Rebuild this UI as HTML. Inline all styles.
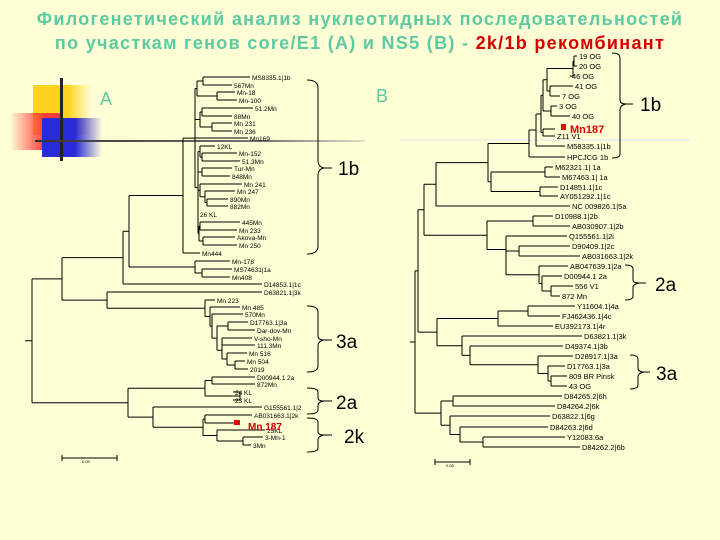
<!DOCTYPE html>
<html><head><meta charset="utf-8"><style>
body{margin:0;background:#fffed4;}
#w{position:relative;width:720px;height:540px;overflow:hidden;background:#fffed4;font-family:"Liberation Sans","DejaVu Sans",sans-serif;}
.t{position:absolute;left:0;width:720px;text-align:center;font-weight:bold;font-size:18px;color:#5ccaa3;letter-spacing:1.3px;white-space:nowrap;}
svg text{font-family:"Liberation Sans",sans-serif;}
</style></head><body><div id="w">
<div style="position:absolute;left:33px;top:85px;width:58px;height:50px;background:linear-gradient(90deg,#ffd21e 60%,rgba(255,220,100,0))"></div>
<div style="position:absolute;left:10px;top:113px;width:50px;height:37px;background:linear-gradient(90deg,rgba(255,150,150,0),#ff3a3a 70%)"></div>
<div style="position:absolute;left:42px;top:118px;width:60px;height:39px;background:linear-gradient(90deg,#2a2ad8 55%,rgba(80,80,230,0))"></div>
<div style="position:absolute;left:60px;top:78px;width:3px;height:83px;background:#222"></div>
<div style="position:absolute;left:35px;top:140px;width:330px;height:2px;background:linear-gradient(90deg,#333,#777 70%,rgba(150,150,150,0.3))"></div>
<div style="position:absolute;left:400px;top:139px;width:290px;height:2px;background:linear-gradient(90deg,rgba(230,230,230,0.6),#eee)"></div>
<div class="t" style="top:9px">Филогенетический анализ нуклеотидных последовательностей</div>
<div class="t" style="top:33px">по участкам генов core/E1 (A) и NS5 (B) - <span style="color:#d40000">2k/1b рекомбинант</span></div>
<svg width="720" height="540" style="position:absolute;left:0;top:0">
<g id="lines" stroke="#000" stroke-width="1" fill="none"></g>
<text x="100" y="105" font-size="18" fill="#5ccaa3">A</text>
<text x="376" y="102" font-size="18" fill="#5ccaa3">B</text>
<g font-size="6.5" fill="#000">
<text x="252" y="80">MS8335.1|1b</text><text x="234" y="88">567Mn</text><text x="237" y="95">Mn-18</text><text x="239" y="103">Mn-100</text>
<text x="255" y="111">51.2Mn</text><text x="234" y="119">88Mn</text><text x="234" y="126">Mn 231</text><text x="234" y="134">Mn 236</text>
<text x="250" y="141">Mn169</text><text x="217" y="149">12KL</text><text x="239" y="156">Mn-152</text><text x="242" y="164">51.3Mn</text>
<text x="234" y="171">Tur-Mn</text><text x="232" y="179">848Mn</text><text x="244" y="187">Mn 241</text><text x="237" y="194">Mn 247</text>
<text x="230" y="202">890Mn</text><text x="230" y="209">882Mn</text><text x="200" y="217">26 KL</text><text x="242" y="225">445Mn</text>
<text x="239" y="233">Mn 233</text><text x="237" y="240">Akova-Mn</text><text x="239" y="248">Mn 250</text><text x="202" y="256">Mn444</text>
<text x="232" y="264">Mn-178</text><text x="234" y="272">MS74631|1a</text><text x="232" y="280">Mn408</text><text x="264" y="287">D14853.1|1c</text>
<text x="264" y="295">D63821.1|3k</text><text x="217" y="303">Mn 223</text><text x="242" y="310">Mn 485</text><text x="245" y="317">570Mn</text>
<text x="250" y="325">D17763.1|3a</text><text x="257" y="333">Dar-dov-Mn</text><text x="254" y="341">V-sho-Mn</text><text x="257" y="348">111.3Mn</text>
<text x="249" y="356">Mn 516</text><text x="247" y="364">Mn 504</text><text x="250" y="372">2019</text><text x="257" y="380">D00944.1 2a</text>
<text x="257" y="387">872Mn</text><text x="235" y="395">24 KL</text><text x="235" y="403">23 KL</text><text x="264" y="410">G155561.1|2</text>
<text x="254" y="418">AB031663.1|2k</text><text x="267" y="433">25KL</text><text x="265" y="440">3-Mn-1</text><text x="253" y="448">3Mn</text>
</g>
<rect x="234" y="420" width="6" height="5" fill="#e00"/>
<text x="248" y="430" font-size="10" fill="#c00" font-weight="bold">Mn 187</text>
<g font-size="7.5" fill="#000">
<text x="579" y="59">19 OG</text><text x="579" y="69">20 OG</text><text x="572" y="79">46 OG</text><text x="575" y="89">41 OG</text>
<text x="562" y="99">7 OG</text><text x="559" y="109">3 OG</text><text x="572" y="119">40 OG</text><text x="557" y="139">Z11 V1</text>
<text x="567" y="149">M58335.1|1b</text><text x="567" y="160">HPCJCG 1b</text><text x="555" y="170">M62321.1| 1a</text><text x="562" y="180">M67463.1| 1a</text>
<text x="560" y="190">D14851.1|1c</text><text x="560" y="199">AY051292.1|1c</text><text x="572" y="209">NC 009826.1|5a</text><text x="555" y="219">D10988.1|2b</text>
<text x="572" y="229">AB030907.1|2b</text><text x="569" y="239">Q155561.1|2i</text><text x="572" y="249">D90409.1|2c</text><text x="582" y="259">AB031663.1|2k</text>
<text x="570" y="269">AB047639.1|2a</text><text x="564" y="279">D00944.1 2a</text><text x="575" y="289">556 V1</text><text x="562" y="299">872 Mn</text>
<text x="577" y="309">Y11604.1|4a</text><text x="562" y="319">FJ462436.1|4c</text><text x="555" y="329">EU392173.1|4r</text><text x="584" y="339">D63821.1|3k</text>
<text x="565" y="349">D49374.1|3b</text><text x="575" y="359">D28917.1|3a</text><text x="567" y="369">D17763.1|3a</text><text x="569" y="379">809 BR Pinsk</text>
<text x="569" y="389">43 OG</text><text x="564" y="399">D84265.2|6h</text><text x="557" y="409">D84264.2|6k</text><text x="552" y="419">D63822.1|6g</text>
<text x="550" y="430">D84263.2|6d</text><text x="567" y="440">Y12083.6a</text><text x="582" y="450">D84262.2|6b</text>
</g>
<rect x="561" y="124" width="5" height="6" fill="#e00"/>
<text x="570" y="133" font-size="11" fill="#d00" font-weight="bold">Mn187</text>
<g stroke="#000" fill="none" stroke-width="1">
<path d="M307 80 Q318 80 318 88 V160 Q318 167 324 168 Q318 169 318 176 V246 Q318 254 307 254"/>
<path d="M307 306 Q318 306 318 312 V336 Q318 340 324 340 Q318 341 318 346 V366 Q318 372 307 372"/>
<path d="M307 388 Q318 388 318 392 V398 Q318 401 324 401 Q318 402 318 405 V410 Q318 414 307 414"/>
<path d="M307 418 Q318 418 318 422 V432 Q318 435 324 435 Q318 436 318 440 V448 Q318 452 307 452"/>
<path d="M612 53 Q620 53 620 58 V100 Q620 104 626 104 Q620 105 620 110 V154 Q620 158 612 158"/>
<path d="M625 265 Q633 265 633 269 V280 Q633 283 639 283 Q633 284 633 288 V296 Q633 300 625 300"/>
<path d="M630 355 Q638 355 638 359 V368 Q638 372 644 372 Q638 373 638 377 V385 Q638 389 630 389"/>
<path d="M62 458 H117 M62 455 V461 M117 455 V461 M435 462 H470 M435 459 V465 M470 459 V465"/>
<path d="M324 168 H332 M324 340 H332 M324 401 H332 M324 435 H332 M626 104 H633 M639 283 H646 M644 372 H650"/>
</g>
<g font-size="19" fill="#000"><text x="338" y="175">1b</text><text x="336" y="348">3a</text><text x="336" y="409">2a</text><text x="344" y="443">2k</text>
<text x="640" y="111">1b</text><text x="655" y="291">2a</text><text x="656" y="380">3a</text></g>
<text x="82" y="463" font-size="4">0.05</text><text x="446" y="467" font-size="4">0.05</text>
</svg>
<script>
function L(y,e){return {y:y,e:e};}
function N(x,c){return {x:x,c:c};}
var A=N(32,[
 N(62,[
  N(123,[
   N(129,[
    N(183,[
     N(195,[
      N(197,[N(203,[L(77,250),L(85,232)]),N(217,[L(92,235),L(100,237)])]),
      N(200,[N(202,[L(108,253),L(116,232)]),N(212,[L(123,232),L(131,232)])]),
      L(138,248),
      N(198,[N(200,[L(146,215),N(202,[L(153,237),L(161,240)])]),
             N(198,[N(202,[L(168,232),L(176,230)]),N(200,[L(184,242),N(205,[L(191,235),N(207,[L(199,228),L(206,228)])])])]),
             N(198,[L(214,198),N(199,[N(200,[L(222,240),L(230,237)]),N(203,[L(237,235),L(245,237)])])])])
     ]),
     L(253,200)
    ]),
    N(195,[L(261,230),N(202,[L(269,232),L(277,230)])])
   ]),
   L(284,262)
  ]),
  N(107,[L(292,262),
   N(205,[L(300,215),N(210,[L(307,240),N(212,[L(314,243),N(217,[N(228,[L(322,248),L(330,255)]),N(222,[N(222,[L(338,252),L(345,255)]),N(227,[L(353,247),N(235,[L(361,245),L(369,248)])])])])])])])
  ])
 ]),
 N(128,[
  N(205,[N(212,[L(377,255),L(384,255)]),N(240,[L(392,233),L(400,233)])]),
  N(153,[L(407,262),N(203,[N(205,[L(415,252),L(423,240)]),N(217,[L(430,265),N(243,[L(437,263),L(445,251)])])])])
 ])
]);
var B=N(415,[
 N(418,[
  N(424,[
   N(436,[
    N(488,[
     N(529,[N(536,[N(541,[N(543,[N(547,[N(573,[N(574,[L(56,577),L(66,577)]),L(76,570)]),N(550,[L(86,573),L(96,560)])]),N(551,[L(106,557),L(116,570)])]),N(543,[L(129,555),L(136,555)])]),L(146,565)]),L(157,565)]),
     N(491,[N(545,[L(167,553),L(177,560)]),N(540,[L(187,558),L(196,558)])])
    ]),
    L(206,570)
   ]),
   N(487,[N(533,[L(216,553),L(226,570)]),
     N(506,[L(236,567),N(506,[N(519,[L(246,570),L(256,580)]),N(539,[L(266,568),N(542,[L(276,562),N(551,[L(286,573),L(296,560)])])])])])])
  ]),
  N(437,[N(498,[N(528,[L(306,575),L(316,560)]),L(326,553)]),
   N(462,[L(336,582),N(470,[L(346,563),N(538,[L(356,573),N(548,[L(366,565),N(551,[L(376,567),L(386,567)])])])])])])
 ]),
 N(441,[N(453,[L(396,562),L(406,555)]),N(450,[L(416,550),N(460,[L(427,548),N(483,[L(437,565),L(447,580)])])])])
]);
var d="";
function draw(n){
 if(n.c===undefined)return n.y;
 var ys=[];
 n.c.forEach(function(c){var y=draw(c);ys.push(y);var xe=c.c===undefined?c.e:c.x;d+="M"+n.x+" "+y+"H"+xe;});
 var y0=Math.min.apply(null,ys),y1=Math.max.apply(null,ys);
 d+="M"+n.x+" "+y0+"V"+y1;
 return (y0+y1)/2;
}
var ra=draw(A);d+="M25 "+ra+"H32";
var rb=draw(B);d+="M410 "+rb+"H415";
var p=document.createElementNS("http://www.w3.org/2000/svg","path");
p.setAttribute("d",d);document.getElementById("lines").appendChild(p);
</script>
</div></body></html>
